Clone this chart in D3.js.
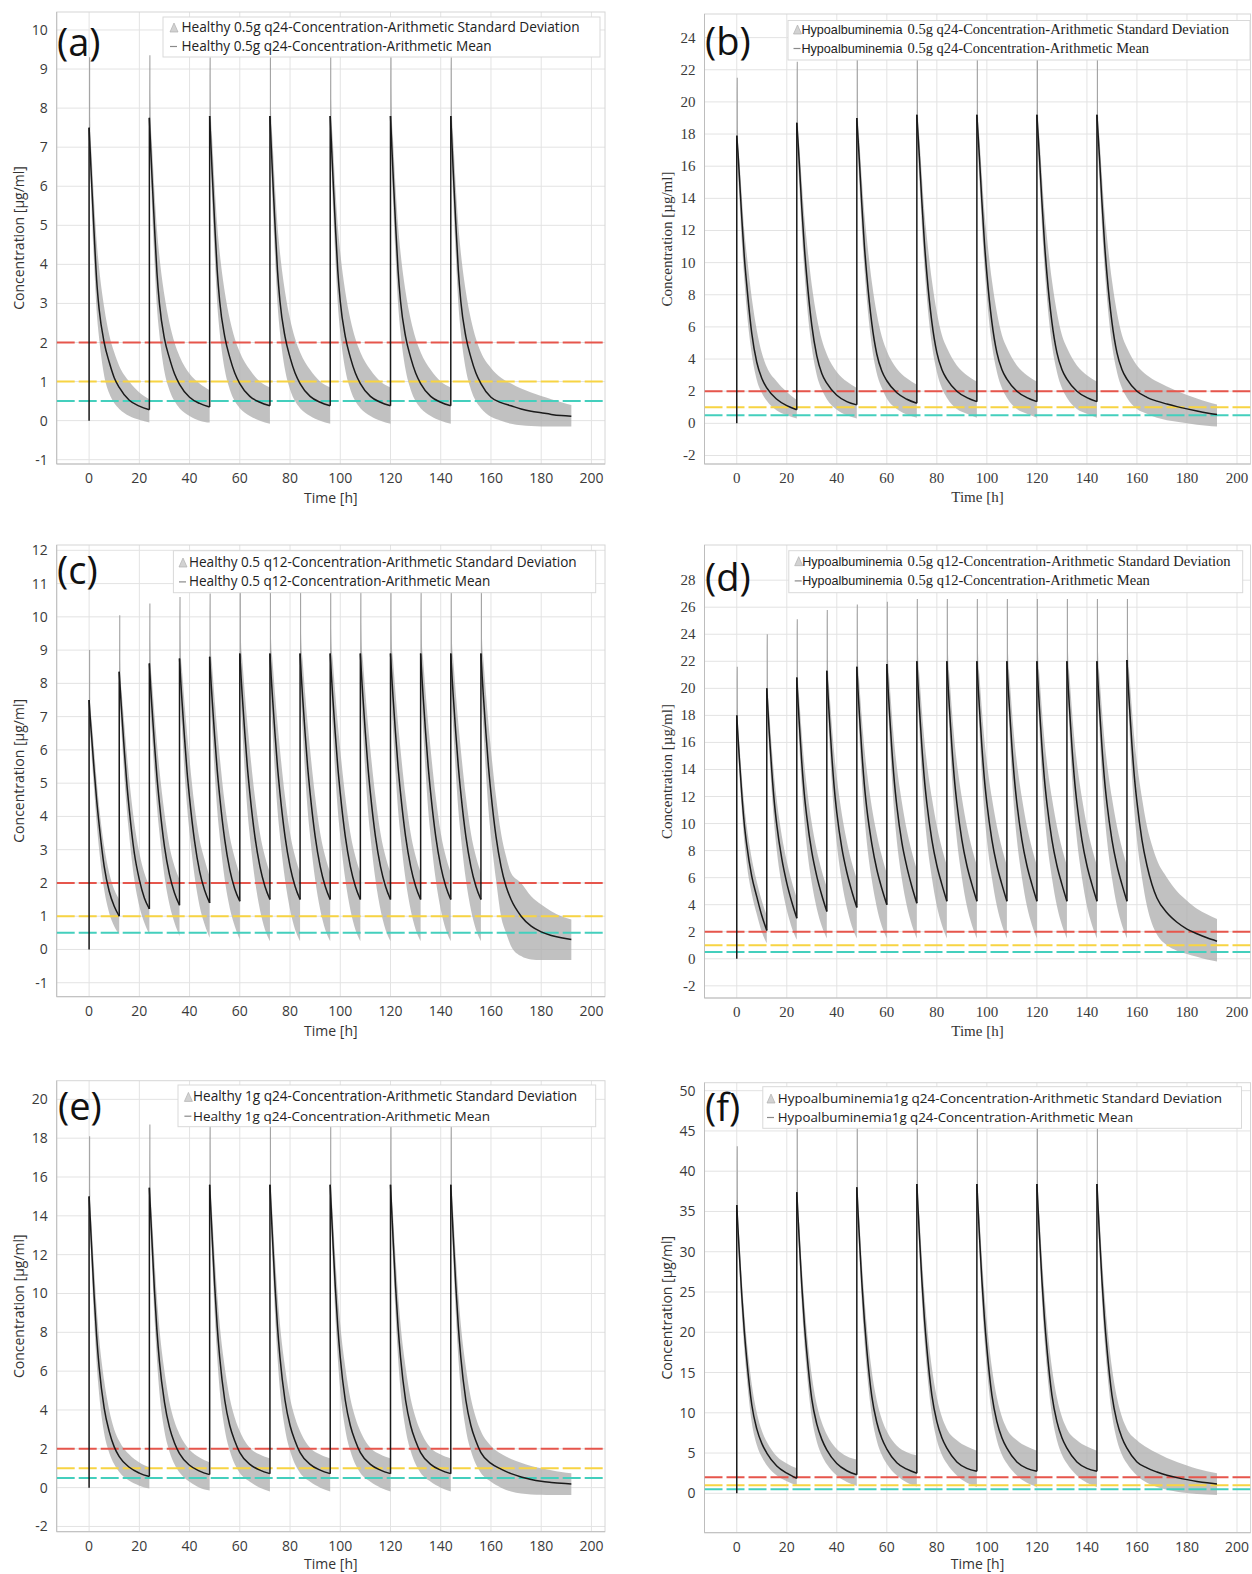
<!DOCTYPE html>
<html>
<head>
<meta charset="utf-8">
<script src="https://cdn.jsdelivr.net/npm/d3@7"></script>
<style>
body { margin: 0; background: #fff; }
svg { display: block; }
</style>
</head>
<body>
<svg id="chart" width="1252" height="1574"></svg>
<script>
// sample times inside one dosing interval (hours after the dose)
var rel24 = [0, 0.5, 1, 2, 3, 4, 6, 8, 10, 12, 16, 20, 24];
var rel24Last = [0, 0.5, 1, 2, 3, 4, 6, 8, 10, 12, 16, 20, 24, 28, 32, 36, 40, 44, 48];
var rel12 = [0, 0.5, 1, 2, 3, 4, 6, 8, 10, 12];
var rel12Last = [0, 0.5, 1, 2, 3, 4, 6, 8, 10, 12, 16, 20, 24, 28, 32, 36];

var doses24 = [0, 24, 48, 72, 96, 120, 144];
var doses12 = [0, 12, 24, 36, 48, 60, 72, 84, 96, 108, 120, 132, 144, 156];
var timeTicks = [0, 20, 40, 60, 80, 100, 120, 140, 160, 180, 200];
var targetLevels = [2, 1, 0.5];
var targetColors = ["#e6564c", "#f7d443", "#44cfbd"];

// (a) Healthy 0.5g q24
var aMean1 = [7.5, 6.8, 6.1, 4.8, 3.6, 2.85, 2.0, 1.5, 1.1, 0.85, 0.52, 0.37, 0.28];
var aMean2 = [7.75, 7.0, 6.3, 5.0, 3.8, 3.0, 2.1, 1.6, 1.2, 0.93, 0.6, 0.44, 0.35];
var aMeanSS = [7.8, 7.05, 6.35, 5.05, 3.85, 3.05, 2.15, 1.62, 1.22, 0.95, 0.62, 0.47, 0.38];
var aMeanLast = [7.8, 7.05, 6.35, 5.05, 3.85, 3.05, 2.15, 1.62, 1.22, 0.95, 0.6, 0.46, 0.38, 0.3, 0.24, 0.2, 0.16, 0.13, 0.11];
var aHigh1 = [9.3, 7.4, 6.8, 5.6, 4.6, 3.9, 2.9, 2.2, 1.75, 1.4, 1.0, 0.72, 0.55];
var aHigh2 = [9.35, 7.7, 7.1, 5.9, 4.9, 4.2, 3.2, 2.5, 2.0, 1.65, 1.2, 0.95, 0.78];
var aHighSS = [9.3, 7.8, 7.2, 6.0, 5.0, 4.3, 3.3, 2.6, 2.1, 1.75, 1.3, 1.0, 0.85];
var aHighLast = [9.3, 7.8, 7.2, 6.0, 5.0, 4.3, 3.3, 2.6, 2.1, 1.75, 1.35, 1.1, 0.95, 0.82, 0.72, 0.63, 0.55, 0.47, 0.4];
var aLow1 = [7.3, 6.3, 5.4, 4.0, 2.8, 2.1, 1.15, 0.7, 0.45, 0.3, 0.12, 0.02, -0.05];
var aLow2 = [7.45, 6.4, 5.5, 4.1, 2.9, 2.2, 1.25, 0.78, 0.5, 0.32, 0.12, 0.0, -0.05];
var aLowSS = [7.5, 6.4, 5.6, 4.2, 3.0, 2.25, 1.3, 0.8, 0.5, 0.32, 0.12, 0.0, -0.08];
var aLowLast = [7.5, 6.4, 5.6, 4.2, 3.0, 2.25, 1.3, 0.8, 0.5, 0.32, 0.1, 0.0, -0.08, -0.12, -0.14, -0.15, -0.15, -0.15, -0.15];

// (b) Hypoalbuminemia 0.5g q24
var bMean1 = [17.9, 16.8, 15.5, 12.8, 10.4, 8.6, 5.6, 3.8, 2.8, 2.2, 1.5, 1.1, 0.85];
var bMean2 = [18.7, 17.5, 16.2, 13.4, 11.0, 9.1, 6.1, 4.2, 3.1, 2.5, 1.75, 1.35, 1.15];
var bMean3 = [19.0, 17.7, 16.4, 13.6, 11.1, 9.2, 6.2, 4.3, 3.25, 2.65, 1.9, 1.5, 1.25];
var bMeanSS = [19.2, 17.9, 16.6, 13.8, 11.3, 9.3, 6.3, 4.4, 3.35, 2.75, 2.0, 1.6, 1.35];
var bMeanLast = [19.2, 17.9, 16.6, 13.8, 11.3, 9.3, 6.3, 4.4, 3.35, 2.75, 2.0, 1.62, 1.38, 1.2, 1.04, 0.9, 0.77, 0.65, 0.55];
var bHigh1 = [21.5, 17.6, 16.5, 14.2, 12.0, 10.5, 7.8, 5.8, 4.4, 3.5, 2.6, 1.95, 1.45];
var bHigh2 = [22.5, 18.5, 17.3, 15.0, 12.9, 11.3, 8.6, 6.6, 5.2, 4.3, 3.2, 2.6, 2.2];
var bHigh3 = [23.5, 18.8, 17.6, 15.2, 13.1, 11.5, 8.8, 6.8, 5.4, 4.5, 3.4, 2.8, 2.4];
var bHighSS = [23.5, 19.0, 17.8, 15.4, 13.2, 11.6, 8.9, 6.9, 5.5, 4.7, 3.6, 3.0, 2.6];
var bHighLast = [23.5, 19.0, 17.8, 15.4, 13.2, 11.6, 8.9, 6.9, 5.5, 4.7, 3.6, 3.0, 2.6, 2.3, 2.02, 1.77, 1.55, 1.35, 1.18];
var bLow1 = [17.0, 15.5, 14.2, 11.3, 9.0, 7.0, 4.3, 2.7, 1.9, 1.4, 0.8, 0.5, 0.3];
var bLow2 = [17.8, 16.2, 14.8, 11.9, 9.5, 7.5, 4.7, 3.0, 2.1, 1.5, 0.85, 0.5, 0.3];
var bLow3 = [18.0, 16.4, 15.0, 12.1, 9.7, 7.7, 4.8, 3.1, 2.2, 1.55, 0.9, 0.55, 0.35];
var bLowSS = [18.2, 16.6, 15.2, 12.3, 9.8, 7.8, 4.9, 3.2, 2.2, 1.6, 0.9, 0.6, 0.35];
var bLowLast = [18.2, 16.6, 15.2, 12.3, 9.8, 7.8, 4.9, 3.2, 2.2, 1.6, 0.9, 0.6, 0.35, 0.2, 0.1, 0.0, -0.08, -0.15, -0.2];

// (c) Healthy 0.5 q12
var cMean1 = [7.5, 6.9, 6.4, 5.4, 4.5, 3.75, 2.5, 1.75, 1.3, 1.0];
var cMean2 = [8.35, 7.7, 7.1, 6.0, 5.0, 4.2, 2.9, 2.1, 1.55, 1.22];
var cMean3 = [8.6, 7.9, 7.3, 6.2, 5.2, 4.4, 3.1, 2.25, 1.7, 1.33];
var cMean4 = [8.75, 8.05, 7.45, 6.35, 5.35, 4.55, 3.25, 2.35, 1.78, 1.4];
var cMean5 = [8.8, 8.1, 7.5, 6.4, 5.4, 4.6, 3.3, 2.4, 1.82, 1.45];
var cMeanSS = [8.9, 8.2, 7.6, 6.5, 5.5, 4.7, 3.4, 2.5, 1.9, 1.5];
var cMeanLast = [8.9, 8.2, 7.6, 6.5, 5.5, 4.7, 3.4, 2.5, 1.9, 1.5, 1.0, 0.7, 0.53, 0.42, 0.35, 0.3];
var cHigh1 = [9.0, 7.3, 6.9, 6.0, 5.1, 4.3, 3.1, 2.3, 1.8, 1.5];
var cHigh2 = [10.05, 8.2, 7.7, 6.8, 5.9, 5.1, 3.8, 2.9, 2.3, 1.9];
var cHigh3 = [10.4, 8.6, 8.1, 7.1, 6.2, 5.4, 4.1, 3.1, 2.5, 2.1];
var cHigh4 = [10.6, 8.9, 8.4, 7.4, 6.5, 5.7, 4.3, 3.3, 2.7, 2.2];
var cHigh5 = [10.7, 9.0, 8.5, 7.5, 6.6, 5.8, 4.4, 3.4, 2.75, 2.25];
var cHighSS = [10.8, 9.2, 8.7, 7.7, 6.8, 6.0, 4.6, 3.5, 2.8, 2.3];
var cHighLast = [10.8, 9.2, 8.7, 7.7, 6.8, 6.0, 4.6, 3.5, 2.8, 2.3, 2.0, 1.6, 1.35, 1.15, 1.0, 0.9];
var cLow1 = [7.2, 6.4, 5.8, 4.8, 3.8, 3.0, 1.8, 1.1, 0.7, 0.45];
var cLow2 = [8.0, 7.0, 6.4, 5.2, 4.2, 3.4, 2.1, 1.3, 0.8, 0.45];
var cLow3 = [8.2, 7.1, 6.5, 5.3, 4.3, 3.5, 2.2, 1.35, 0.8, 0.4];
var cLow4 = [8.4, 7.2, 6.6, 5.3, 4.3, 3.5, 2.2, 1.3, 0.75, 0.35];
var cLow5 = [8.45, 7.3, 6.6, 5.3, 4.2, 3.4, 2.1, 1.25, 0.7, 0.3];
var cLowSS = [8.5, 7.3, 6.6, 5.3, 4.2, 3.4, 2.1, 1.2, 0.6, 0.25];
var cLowLast = [8.5, 7.3, 6.6, 5.3, 4.2, 3.4, 2.1, 1.0, 0.5, 0.1, -0.2, -0.3, -0.32, -0.32, -0.32, -0.32];

// (d) Hypoalbuminemia 0.5g q12
var dMean1 = [18.0, 16.4, 14.9, 12.2, 10.0, 8.4, 6.1, 4.6, 3.2, 2.1];
var dMean2 = [20.0, 18.3, 16.7, 13.9, 11.6, 9.9, 7.4, 5.6, 4.2, 3.0];
var dMean3 = [20.8, 19.0, 17.4, 14.5, 12.2, 10.5, 7.9, 6.1, 4.7, 3.5];
var dMean4 = [21.3, 19.5, 17.9, 15.0, 12.6, 10.8, 8.2, 6.4, 5.0, 3.8];
var dMean5 = [21.6, 19.8, 18.2, 15.3, 12.9, 11.1, 8.5, 6.6, 5.2, 4.0];
var dMean6 = [21.8, 20.0, 18.4, 15.5, 13.1, 11.3, 8.6, 6.8, 5.35, 4.1];
var dMeanSS = [22.0, 20.2, 18.6, 15.7, 13.3, 11.5, 8.8, 6.9, 5.5, 4.25];
var dMeanLast = [22.1, 20.3, 18.7, 15.8, 13.4, 11.6, 8.8, 6.9, 5.5, 4.5, 3.4, 2.7, 2.2, 1.85, 1.55, 1.3];
var dHigh1 = [21.6, 17.4, 16.0, 13.5, 11.4, 9.8, 7.4, 5.7, 4.3, 3.2];
var dHigh2 = [24.0, 19.6, 18.2, 15.6, 13.4, 11.7, 9.1, 7.2, 5.7, 4.5];
var dHigh3 = [25.1, 20.6, 19.2, 16.6, 14.4, 12.7, 10.0, 8.0, 6.5, 5.3];
var dHigh4 = [25.8, 21.3, 19.9, 17.3, 15.1, 13.4, 10.7, 8.7, 7.1, 5.9];
var dHigh5 = [26.2, 21.8, 20.4, 17.8, 15.6, 13.9, 11.2, 9.2, 7.6, 6.3];
var dHigh6 = [26.4, 22.1, 20.7, 18.1, 15.9, 14.2, 11.6, 9.5, 7.9, 6.6];
var dHighSS = [26.6, 22.4, 21.0, 18.4, 16.2, 14.5, 11.9, 9.8, 8.2, 6.9];
var dHighLast = [26.6, 22.4, 21.0, 18.4, 16.2, 14.5, 11.9, 9.8, 8.4, 7.3, 6.0, 5.0, 4.3, 3.7, 3.3, 2.95];
var dLow1 = [17.0, 15.4, 13.8, 11.0, 8.7, 7.0, 4.8, 3.3, 2.0, 1.15];
var dLow2 = [19.0, 17.0, 15.3, 12.3, 9.9, 8.0, 5.4, 3.6, 2.3, 1.4];
var dLow3 = [19.8, 17.6, 15.8, 12.7, 10.2, 8.3, 5.6, 3.7, 2.4, 1.5];
var dLow4 = [20.3, 18.0, 16.2, 13.0, 10.4, 8.5, 5.7, 3.8, 2.4, 1.5];
var dLow5 = [20.6, 18.3, 16.5, 13.2, 10.6, 8.6, 5.8, 3.8, 2.4, 1.5];
var dLow6 = [20.9, 18.5, 16.7, 13.4, 10.7, 8.7, 5.9, 3.9, 2.5, 1.5];
var dLowSS = [21.2, 18.8, 16.9, 13.5, 10.8, 8.8, 6.0, 3.9, 2.5, 1.5];
var dLowLast = [21.2, 18.8, 16.9, 13.5, 10.8, 8.8, 6.0, 3.9, 2.6, 1.8, 1.0, 0.6, 0.35, 0.15, -0.05, -0.2];

// (e) Healthy 1g q24
var eMean1 = [15.0, 13.7, 12.4, 9.9, 7.8, 6.2, 4.1, 2.9, 2.1, 1.6, 1.05, 0.75, 0.57];
var eMean2 = [15.45, 14.1, 12.8, 10.2, 8.1, 6.5, 4.4, 3.1, 2.3, 1.75, 1.15, 0.85, 0.67];
var eMeanSS = [15.6, 14.2, 12.9, 10.4, 8.3, 6.7, 4.5, 3.2, 2.4, 1.8, 1.2, 0.9, 0.72];
var eMeanLast = [15.6, 14.2, 12.9, 10.4, 8.3, 6.7, 4.5, 3.2, 2.4, 1.8, 1.25, 0.95, 0.72, 0.55, 0.42, 0.33, 0.27, 0.22, 0.19];
var eHigh1 = [18.1, 14.7, 13.5, 11.3, 9.3, 7.7, 5.5, 4.0, 3.0, 2.4, 1.7, 1.3, 1.05];
var eHigh2 = [18.7, 15.2, 14.0, 11.8, 9.8, 8.2, 6.0, 4.4, 3.4, 2.75, 1.95, 1.55, 1.3];
var eHighSS = [18.8, 15.3, 14.1, 11.9, 10.0, 8.4, 6.2, 4.6, 3.6, 2.9, 2.05, 1.7, 1.5];
var eHighLast = [18.8, 15.3, 14.1, 11.9, 10.0, 8.4, 6.2, 4.6, 3.6, 2.9, 2.15, 1.75, 1.48, 1.28, 1.12, 1.0, 0.9, 0.81, 0.74];
var eLow1 = [14.5, 12.8, 11.3, 8.6, 6.4, 4.8, 2.8, 1.8, 1.2, 0.8, 0.35, 0.1, -0.05];
var eLow2 = [14.9, 13.0, 11.6, 8.8, 6.6, 4.9, 2.9, 1.85, 1.2, 0.78, 0.3, 0.0, -0.15];
var eLowSS = [15.0, 13.1, 11.7, 8.9, 6.7, 5.0, 3.0, 1.9, 1.2, 0.75, 0.3, 0.0, -0.2];
var eLowLast = [15.0, 13.1, 11.7, 8.9, 6.7, 5.0, 3.0, 1.9, 1.2, 0.75, 0.3, 0.0, -0.2, -0.3, -0.35, -0.37, -0.38, -0.38, -0.38];

// (f) Hypoalbuminemia 1g q24
var fMean1 = [35.8, 32.8, 30.0, 24.6, 20.2, 16.6, 11.0, 8.0, 6.2, 5.0, 3.4, 2.5, 1.86];
var fMean2 = [37.4, 34.3, 31.4, 25.8, 21.2, 17.5, 11.7, 8.6, 6.7, 5.4, 3.7, 2.8, 2.3];
var fMean3 = [38.0, 34.8, 31.9, 26.2, 21.6, 17.8, 12.0, 8.8, 6.8, 5.5, 3.8, 3.0, 2.5];
var fMeanSS = [38.4, 35.2, 32.2, 26.5, 21.8, 18.0, 12.2, 8.9, 6.9, 5.6, 3.9, 3.1, 2.75];
var fMeanLast = [38.4, 35.2, 32.2, 26.5, 21.8, 18.0, 12.2, 8.9, 6.9, 5.6, 3.9, 3.15, 2.65, 2.25, 1.95, 1.7, 1.48, 1.3, 1.16];
var fHigh1 = [43.1, 34.5, 31.8, 26.7, 22.4, 18.9, 13.5, 10.0, 7.8, 6.4, 4.6, 3.7, 3.1];
var fHigh2 = [47, 36.4, 33.5, 28.2, 23.8, 20.2, 14.6, 11.0, 8.8, 7.3, 5.5, 4.6, 4.2];
var fHigh3 = [47, 37.0, 34.1, 28.8, 24.4, 20.7, 15.1, 11.5, 9.2, 7.7, 5.9, 5.1, 4.7];
var fHighSS = [47, 37.5, 34.6, 29.3, 24.9, 21.2, 15.6, 11.9, 9.5, 8.0, 6.6, 5.8, 5.3];
var fHighLast = [47, 37.5, 34.6, 29.3, 24.9, 21.2, 15.6, 11.9, 9.5, 8.0, 6.6, 5.7, 5.0, 4.4, 3.9, 3.45, 3.05, 2.75, 2.5];
var fLow1 = [34.5, 31.0, 28.0, 22.4, 17.9, 14.3, 8.8, 6.0, 4.5, 3.5, 2.2, 1.5, 1.0];
var fLow2 = [36.0, 32.4, 29.3, 23.4, 18.7, 15.0, 9.4, 6.4, 4.7, 3.6, 2.2, 1.4, 0.9];
var fLow3 = [36.5, 32.8, 29.7, 23.7, 19.0, 15.2, 9.6, 6.5, 4.75, 3.65, 2.2, 1.35, 0.85];
var fLowSS = [37.0, 33.2, 30.0, 24.0, 19.2, 15.4, 9.8, 6.6, 4.8, 3.7, 2.2, 1.3, 0.8];
var fLowLast = [37.0, 33.2, 30.0, 24.0, 19.2, 15.4, 9.8, 6.6, 4.8, 3.7, 2.2, 1.3, 0.8, 0.45, 0.2, 0.05, -0.08, -0.15, -0.2];

var svg = d3.select("#chart");
var SANS = "'Open Sans', 'Liberation Sans', sans-serif";
var SERIF = "'Liberation Serif', 'DejaVu Serif', serif";
var NARROW = "'Liberation Sans Narrow', 'Liberation Sans', sans-serif";

var panels = [
  { id: "a", label: "(a)", left: 56.7, right: 605, top: 12, bottom: 464, yDomain: [-1.11, 10.46],
    yTicks: d3.range(-1, 11), serif: false, doses: doses24, rel: rel24, relLast: rel24Last, timeY: 39,
    mean: [aMean1, aMean2, aMeanSS, aMeanSS, aMeanSS, aMeanSS, aMeanLast],
    high: [aHigh1, aHigh2, aHighSS, aHighSS, aHighSS, aHighSS, aHighLast],
    low: [aLow1, aLow2, aLowSS, aLowSS, aLowSS, aLowSS, aLowLast],
    labelX: 57, labelY: 55.5,
    legend: { box: [163, 17, 600, 57], icon: 170, text: 181.5, ends: [580, 491.7], base: [32, 51],
      prefix: null, lines: ["Healthy 0.5g q24-Concentration-Arithmetic Standard Deviation", "Healthy 0.5g q24-Concentration-Arithmetic Mean"] } },
  { id: "b", label: "(b)", left: 704.5, right: 1250.5, top: 14, bottom: 464, yDomain: [-2.53, 25.47],
    yTicks: d3.range(-2, 25, 2), serif: true, doses: doses24, rel: rel24, relLast: rel24Last, timeY: 38,
    mean: [bMean1, bMean2, bMean3, bMeanSS, bMeanSS, bMeanSS, bMeanLast],
    high: [bHigh1, bHigh2, bHigh3, bHighSS, bHighSS, bHighSS, bHighLast],
    low: [bLow1, bLow2, bLow3, bLowSS, bLowSS, bLowSS, bLowLast],
    labelX: 705, labelY: 54.5,
    legend: { box: [788, 20.5, 1250, 60], icon: 793.5, text: 801.4, split: 904.6, ends: [1229, 1149.3], base: [34, 53],
      prefix: "Hypoalbuminemia", lines: ["0.5g q24-Concentration-Arithmetic Standard Deviation", "0.5g q24-Concentration-Arithmetic Mean"] } },
  { id: "c", label: "(c)", left: 56.7, right: 605, top: 545, bottom: 996.7, yDomain: [-1.42, 12.16],
    yTicks: d3.range(-1, 13), serif: false, doses: doses12, rel: rel12, relLast: rel12Last, timeY: 39,
    mean: [cMean1, cMean2, cMean3, cMean4, cMean5, cMeanSS, cMeanSS, cMeanSS, cMeanSS, cMeanSS, cMeanSS, cMeanSS, cMeanSS, cMeanLast],
    high: [cHigh1, cHigh2, cHigh3, cHigh4, cHigh5, cHighSS, cHighSS, cHighSS, cHighSS, cHighSS, cHighSS, cHighSS, cHighSS, cHighLast],
    low: [cLow1, cLow2, cLow3, cLow4, cLow5, cLowSS, cLowSS, cLowSS, cLowSS, cLowSS, cLowSS, cLowSS, cLowSS, cLowLast],
    labelX: 57, labelY: 583.5,
    legend: { box: [173.4, 550.7, 595.7, 592.7], icon: 179, text: 189, ends: [577, 490.5], base: [567, 586.4],
      prefix: null, lines: ["Healthy 0.5 q12-Concentration-Arithmetic Standard Deviation", "Healthy 0.5 q12-Concentration-Arithmetic Mean"] } },
  { id: "d", label: "(d)", left: 704.5, right: 1250.5, top: 545, bottom: 998, yDomain: [-2.9, 30.6],
    yTicks: d3.range(-2, 29, 2), serif: true, doses: doses12, rel: rel12, relLast: rel12Last, timeY: 38,
    mean: [dMean1, dMean2, dMean3, dMean4, dMean5, dMean6, dMeanSS, dMeanSS, dMeanSS, dMeanSS, dMeanSS, dMeanSS, dMeanSS, dMeanLast],
    high: [dHigh1, dHigh2, dHigh3, dHigh4, dHigh5, dHigh6, dHighSS, dHighSS, dHighSS, dHighSS, dHighSS, dHighSS, dHighSS, dHighLast],
    low: [dLow1, dLow2, dLow3, dLow4, dLow5, dLow6, dLowSS, dLowSS, dLowSS, dLowSS, dLowSS, dLowSS, dLowSS, dLowLast],
    labelX: 705, labelY: 590.5,
    legend: { box: [788.8, 550.7, 1242.7, 592.7], icon: 794.7, text: 802.2, split: 904.6, ends: [1230.9, 1150], base: [565.7, 585.4],
      prefix: "Hypoalbuminemia", lines: ["0.5g q12-Concentration-Arithmetic Standard Deviation", "0.5g q12-Concentration-Arithmetic Mean"] } },
  { id: "e", label: "(e)", left: 56.7, right: 605, top: 1080.7, bottom: 1531.7, yDomain: [-2.27, 20.96],
    yTicks: d3.range(-2, 21, 2), serif: false, doses: doses24, rel: rel24, relLast: rel24Last, timeY: 37,
    mean: [eMean1, eMean2, eMeanSS, eMeanSS, eMeanSS, eMeanSS, eMeanLast],
    high: [eHigh1, eHigh2, eHighSS, eHighSS, eHighSS, eHighSS, eHighLast],
    low: [eLow1, eLow2, eLowSS, eLowSS, eLowSS, eLowSS, eLowLast],
    labelX: 58, labelY: 1119.5,
    legend: { box: [178, 1085, 595.7, 1126.7], icon: 184.4, text: 193, ends: [577.2, 490.5], base: [1101.4, 1120.7],
      prefix: null, lines: ["Healthy 1g q24-Concentration-Arithmetic Standard Deviation", "Healthy 1g q24-Concentration-Arithmetic Mean"] } },
  { id: "f", label: "(f)", left: 704.5, right: 1250.5, top: 1082.7, bottom: 1532.7, yDomain: [-4.89, 50.99],
    yTicks: d3.range(0, 51, 5), serif: false, doses: doses24, rel: rel24, relLast: rel24Last, timeY: 36,
    mean: [fMean1, fMean2, fMean3, fMeanSS, fMeanSS, fMeanSS, fMeanLast],
    high: [fHigh1, fHigh2, fHigh3, fHighSS, fHighSS, fHighSS, fHighLast],
    low: [fLow1, fLow2, fLow3, fLowSS, fLowSS, fLowSS, fLowLast],
    labelX: 705, labelY: 1121,
    legend: { box: [762.8, 1086.7, 1241.5, 1128.3], icon: 767, text: 777.8, ends: [1222.2, 1133.5], base: [1103, 1122],
      prefix: null, lines: ["Hypoalbuminemia1g q24-Concentration-Arithmetic Standard Deviation", "Hypoalbuminemia1g q24-Concentration-Arithmetic Mean"] } }
];

panels.forEach(drawPanel);

// size a legend text so that its natural width ends where the reference text ends
function fitText(sel, width, baseSize) {
  var w = sel.node().getComputedTextLength();
  var size = baseSize * width / w;
  sel.style("font-size", size.toFixed(2) + "px");
}

function drawPanel(p) {
  var xScale = d3.scaleLinear().domain([-12.9, 205.4]).range([p.left, p.right]);
  var yScale = d3.scaleLinear().domain(p.yDomain).range([p.bottom, p.top]);
  var font = p.serif ? SERIF : SANS;
  var fontSize = p.serif ? "15px" : "14px";
  var g = svg.append("g");

  g.append("clipPath").attr("id", "clip-" + p.id)
    .append("rect")
    .attr("x", p.left).attr("y", p.top)
    .attr("width", p.right - p.left).attr("height", p.bottom - p.top);

  // grid
  g.append("g").selectAll("line")
    .data(timeTicks)
    .enter().append("line")
    .attr("x1", function(d) { return xScale(d); })
    .attr("x2", function(d) { return xScale(d); })
    .attr("y1", p.top).attr("y2", p.bottom)
    .attr("stroke", "#e3e3e3").attr("stroke-width", 1);
  g.append("g").selectAll("line")
    .data(p.yTicks)
    .enter().append("line")
    .attr("x1", p.left).attr("x2", p.right)
    .attr("y1", function(d) { return yScale(d); })
    .attr("y2", function(d) { return yScale(d); })
    .attr("stroke", "#e3e3e3").attr("stroke-width", 1);

  g.append("rect")
    .attr("x", p.left).attr("y", p.top)
    .attr("width", p.right - p.left).attr("height", p.bottom - p.top)
    .attr("fill", "none").attr("stroke", "#d6d6d6");
  g.append("line").attr("x1", p.left).attr("x2", p.left).attr("y1", p.top).attr("y2", p.bottom)
    .attr("stroke", "#bdbdbd");
  g.append("line").attr("x1", p.left).attr("x2", p.right).attr("y1", p.bottom).attr("y2", p.bottom)
    .attr("stroke", "#bdbdbd");

  // build each dosing interval from the read values
  var intervals = p.doses.map(function(dose, i) {
    var rel = (i === p.doses.length - 1) ? p.relLast : p.rel;
    return rel.map(function(r, j) {
      return { t: dose + r, m: p.mean[i][j], hi: p.high[i][j], lo: p.low[i][j] };
    });
  });

  var plot = g.append("g").attr("clip-path", "url(#clip-" + p.id + ")");

  var band = d3.area()
    .x(function(d) { return xScale(d.t); })
    .y0(function(d) { return yScale(d.lo); })
    .y1(function(d) { return yScale(d.hi); })
    .curve(d3.curveMonotoneX);

  plot.append("g").selectAll("path")
    .data(intervals)
    .enter().append("path")
    .attr("d", band)
    .attr("fill", "#a9a9a9")
    .attr("fill-opacity", 0.72);

  // thin SD spike above each peak
  plot.append("g").selectAll("line")
    .data(p.doses)
    .enter().append("line")
    .attr("x1", function(d) { return xScale(d) + 0.5; })
    .attr("x2", function(d) { return xScale(d) + 0.5; })
    .attr("y1", function(d, i) { return yScale(p.mean[i][0]); })
    .attr("y2", function(d, i) { return yScale(p.high[i][0]); })
    .attr("stroke", "#a3a3a3").attr("stroke-width", 1.1);

  plot.append("g").selectAll("line")
    .data(targetLevels)
    .enter().append("line")
    .attr("x1", p.left).attr("x2", p.right)
    .attr("y1", function(d) { return yScale(d); })
    .attr("y2", function(d) { return yScale(d); })
    .attr("stroke", function(d, i) { return targetColors[i]; })
    .attr("stroke-width", 2)
    .attr("stroke-dasharray", "18,4");

  var meanLine = d3.line()
    .x(function(d) { return xScale(d.t); })
    .y(function(d) { return yScale(d.m); })
    .curve(d3.curveMonotoneX);

  // vertical rise at each dose
  plot.append("g").selectAll("line")
    .data(p.doses)
    .enter().append("line")
    .attr("x1", function(d) { return xScale(d); })
    .attr("x2", function(d) { return xScale(d); })
    .attr("y1", function(d, i) {
      var prev = i === 0 ? 0 : p.mean[i - 1][p.mean[i - 1].length - 1];
      return yScale(prev);
    })
    .attr("y2", function(d, i) { return yScale(p.mean[i][0]); })
    .attr("stroke", "#1a1a1a").attr("stroke-width", 1.5);

  plot.append("g").selectAll("path")
    .data(intervals)
    .enter().append("path")
    .attr("d", meanLine)
    .attr("fill", "none")
    .attr("stroke", "#1a1a1a")
    .attr("stroke-width", 1.5);

  // tick labels
  g.append("g").selectAll("text")
    .data(timeTicks)
    .enter().append("text")
    .attr("x", function(d) { return xScale(d); })
    .attr("y", p.bottom + 19)
    .attr("text-anchor", "middle")
    .style("font-family", font)
    .style("font-size", fontSize)
    .attr("fill", "#3a3a3a")
    .text(function(d) { return d; });

  g.append("g").selectAll("text")
    .data(p.yTicks)
    .enter().append("text")
    .attr("x", p.left - 9)
    .attr("y", function(d) { return yScale(d) + 5; })
    .attr("text-anchor", "end")
    .style("font-family", font)
    .style("font-size", fontSize)
    .attr("fill", "#3a3a3a")
    .text(function(d) { return d; });

  g.append("text")
    .attr("x", (p.left + p.right) / 2)
    .attr("y", p.bottom + p.timeY)
    .attr("text-anchor", "middle")
    .style("font-family", font)
    .style("font-size", fontSize)
    .attr("fill", "#333")
    .text("Time [h]");

  g.append("text")
    .attr("transform", "translate(" + (p.left - 33) + "," + ((p.top + p.bottom) / 2) + ") rotate(-90)")
    .attr("text-anchor", "middle")
    .style("font-family", font)
    .style("font-size", fontSize)
    .attr("fill", "#333")
    .text("Concentration [\u00b5g/ml]");

  // legend
  var L = p.legend;
  var lg = g.append("g");
  lg.append("rect")
    .attr("x", L.box[0]).attr("y", L.box[1])
    .attr("width", L.box[2] - L.box[0]).attr("height", L.box[3] - L.box[1])
    .attr("fill", "#fff").attr("stroke", "#d9d9d9");
  var b0 = L.base[0], b1 = L.base[1];
  lg.append("path")
    .attr("d", "M" + L.icon + "," + b0 + " L" + (L.icon + 4) + "," + (b0 - 9) + " L" + (L.icon + 8) + "," + b0 + " Z")
    .attr("fill", "#d2d2d2").attr("stroke", "#b0b0b0").attr("stroke-width", 0.7);
  lg.append("line")
    .attr("x1", L.icon).attr("x2", L.icon + 7)
    .attr("y1", b1 - 4.5).attr("y2", b1 - 4.5)
    .attr("stroke", "#8a8a8a").attr("stroke-width", 1.2);

  L.lines.forEach(function(txt, k) {
    var base = L.base[k];
    if (L.prefix) {
      var t1 = lg.append("text")
        .attr("x", L.text).attr("y", base)
        .style("font-family", NARROW).style("font-size", "14px").attr("fill", "#222")
        .text(L.prefix);
      fitText(t1, L.split - L.text - 2, 14);
      var t2 = lg.append("text")
        .attr("x", L.split + 3).attr("y", base)
        .style("font-family", SERIF).style("font-size", "14px").attr("fill", "#222")
        .text(txt);
      fitText(t2, L.ends[k] - L.split - 3, 14);
    } else {
      var t = lg.append("text")
        .attr("x", L.text).attr("y", base)
        .style("font-family", SANS).style("font-size", "14px").attr("fill", "#222")
        .text(txt);
      fitText(t, L.ends[k] - L.text, 14);
    }
  });

  g.append("text")
    .attr("x", p.labelX).attr("y", p.labelY)
    .style("font-family", SANS)
    .style("font-size", "38px")
    .attr("fill", "#111")
    .text(p.label);
}
</script>
</body>
</html>
